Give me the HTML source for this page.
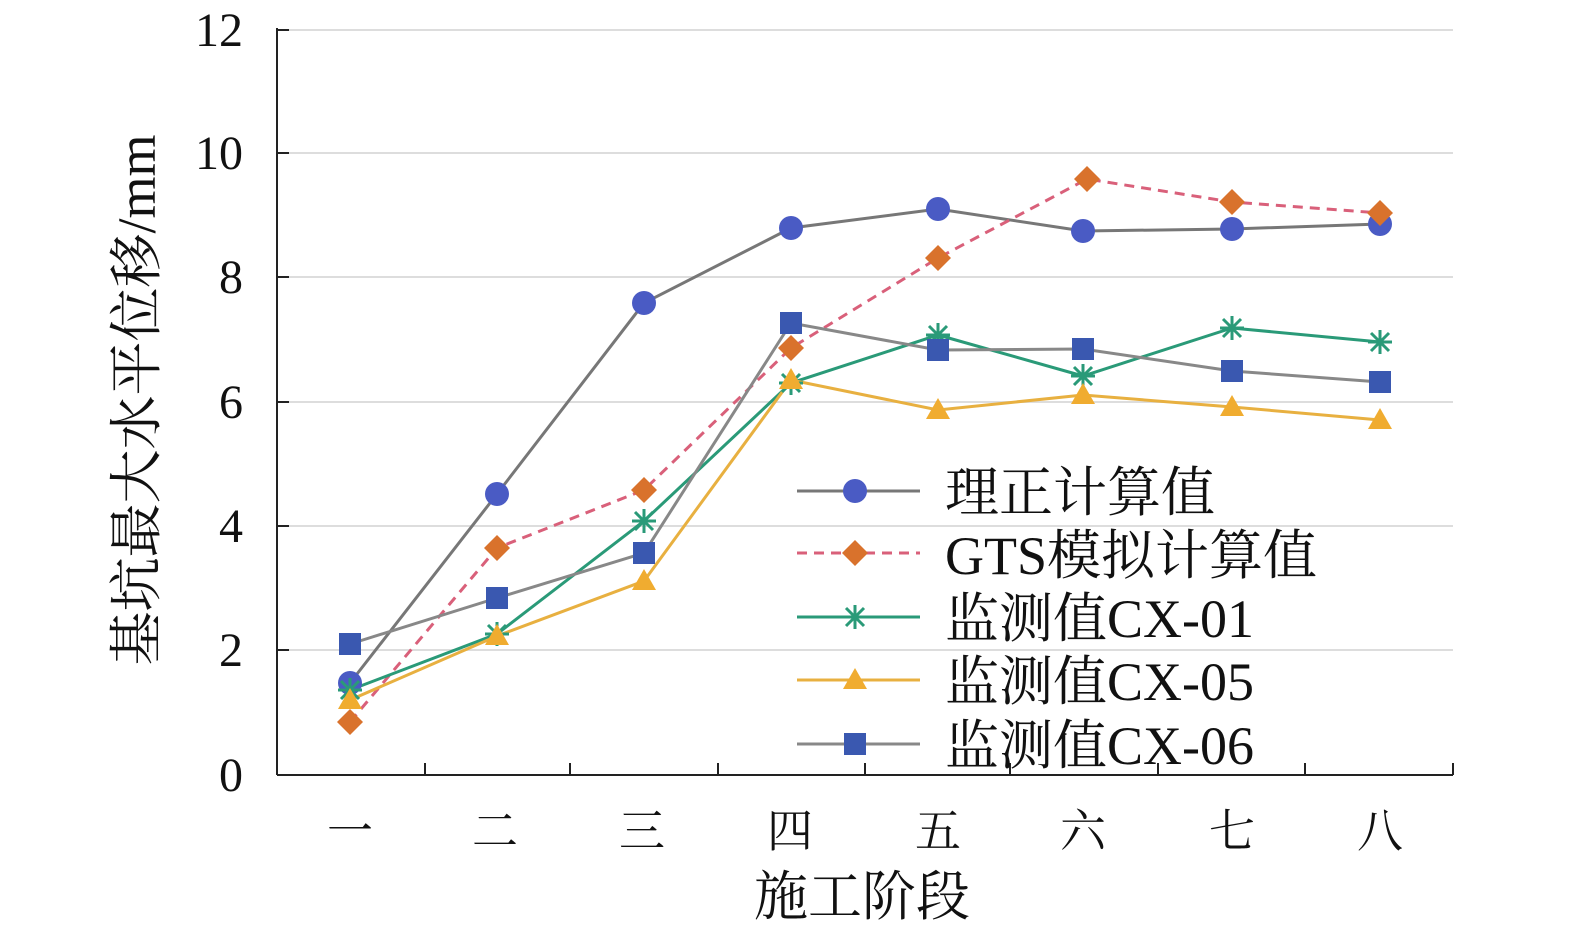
<!DOCTYPE html>
<html><head><meta charset="utf-8"><style>
body{margin:0;background:#fff}
svg text{font-family:"Liberation Serif","Noto Serif CJK SC",serif;fill:#111}
</style></head><body>
<svg width="1575" height="936" viewBox="0 0 1575 936" xmlns="http://www.w3.org/2000/svg">
<rect width="1575" height="936" fill="#fff"/>
<g stroke="#ddd" stroke-width="2">
<line x1="277" y1="30" x2="1453" y2="30"/>
<line x1="277" y1="153" x2="1453" y2="153"/>
<line x1="277" y1="277" x2="1453" y2="277"/>
<line x1="277" y1="402" x2="1453" y2="402"/>
<line x1="277" y1="526" x2="1453" y2="526"/>
<line x1="277" y1="650" x2="1453" y2="650"/>
</g>
<g stroke="#222" stroke-width="2">
<line x1="277" y1="28" x2="277" y2="775"/>
<line x1="277" y1="775" x2="1453" y2="775"/>
<line x1="277" y1="30" x2="289" y2="30"/><line x1="277" y1="153" x2="289" y2="153"/><line x1="277" y1="277" x2="289" y2="277"/><line x1="277" y1="402" x2="289" y2="402"/><line x1="277" y1="526" x2="289" y2="526"/><line x1="277" y1="650" x2="289" y2="650"/>
<line x1="425" y1="763" x2="425" y2="775"/><line x1="570" y1="763" x2="570" y2="775"/><line x1="718" y1="763" x2="718" y2="775"/><line x1="865" y1="763" x2="865" y2="775"/><line x1="1010" y1="763" x2="1010" y2="775"/><line x1="1158" y1="763" x2="1158" y2="775"/><line x1="1305" y1="763" x2="1305" y2="775"/><line x1="1453" y1="763" x2="1453" y2="775"/>
</g>
<g font-size="48" text-anchor="end">
<text x="243" y="46">12</text><text x="243" y="169">10</text><text x="243" y="293">8</text><text x="243" y="418">6</text><text x="243" y="542">4</text><text x="243" y="666">2</text><text x="243" y="791">0</text>
</g>
<g font-size="46" text-anchor="middle">
<text x="350" y="847">一</text><text x="495" y="847">二</text><text x="642" y="847">三</text><text x="790" y="847">四</text><text x="938" y="847">五</text><text x="1083" y="847">六</text><text x="1232" y="847">七</text><text x="1380" y="847">八</text>
<text x="862" y="915" font-size="54">施工阶段</text>
<text transform="translate(155,400) rotate(-90)" font-size="54">基坑最大水平位移/mm</text>
</g>
<polyline fill="none" stroke="#777" stroke-width="3" points="350,683 497,494 644,303 791,228 938,209 1083,231 1232,229 1380,224"/>
<polyline fill="none" stroke="#d9607a" stroke-width="3" stroke-dasharray="10,7" points="350,722 497,548 644,490 791,348 938,258 1087,179 1232,202 1380,213"/>
<polyline fill="none" stroke="#2a9a78" stroke-width="3" points="350,690 497,634 644,521 791,383 938,335 1083,376 1232,328 1380,342"/>
<polyline fill="none" stroke="#e8b040" stroke-width="3" points="350,700 497,636 644,581 791,380 938,410 1083,395 1232,407 1380,420"/>
<polyline fill="none" stroke="#888" stroke-width="3" points="350,644 497,598 644,553 791,323 938,350 1083,349 1232,371 1380,382"/>
<g fill="#4a5bc4">
<circle cx="350" cy="683" r="12"/><circle cx="497" cy="494" r="12"/><circle cx="644" cy="303" r="12"/><circle cx="791" cy="228" r="12"/><circle cx="938" cy="209" r="12"/><circle cx="1083" cy="231" r="12"/><circle cx="1232" cy="229" r="12"/><circle cx="1380" cy="224" r="12"/>
</g>
<g fill="#d9722c">
<path d="M350 709l13 13-13 13-13-13z"/><path d="M497 535l13 13-13 13-13-13z"/><path d="M644 477l13 13-13 13-13-13z"/><path d="M791 335l13 13-13 13-13-13z"/><path d="M938 245l13 13-13 13-13-13z"/><path d="M1087 166l13 13-13 13-13-13z"/><path d="M1232 189l13 13-13 13-13-13z"/><path d="M1380 200l13 13-13 13-13-13z"/>
</g>
<g stroke="#2a9a78" stroke-width="3">
<path d="M338 690h24M350 678v24M341 681l18 18M359 681l-18 18"/>
<path d="M485 634h24M497 622v24M488 625l18 18M506 625l-18 18"/>
<path d="M632 521h24M644 509v24M635 512l18 18M653 512l-18 18"/>
<path d="M779 383h24M791 371v24M782 374l18 18M800 374l-18 18"/>
<path d="M926 335h24M938 323v24M929 326l18 18M947 326l-18 18"/>
<path d="M1071 376h24M1083 364v24M1074 367l18 18M1092 367l-18 18"/>
<path d="M1220 328h24M1232 316v24M1223 319l18 18M1241 319l-18 18"/>
<path d="M1368 342h24M1380 330v24M1371 333l18 18M1389 333l-18 18"/>
</g>
<g fill="#f0ac30">
<path d="M350 688l12 21h-24z"/><path d="M497 624l12 21h-24z"/><path d="M644 569l12 21h-24z"/><path d="M791 368l12 21h-24z"/><path d="M938 398l12 21h-24z"/><path d="M1083 383l12 21h-24z"/><path d="M1232 395l12 21h-24z"/><path d="M1380 408l12 21h-24z"/>
</g>
<g fill="#3a58b0">
<rect x="339" y="633" width="22" height="22"/><rect x="486" y="587" width="22" height="22"/><rect x="633" y="542" width="22" height="22"/><rect x="780" y="312" width="22" height="22"/><rect x="927" y="339" width="22" height="22"/><rect x="1072" y="338" width="22" height="22"/><rect x="1221" y="360" width="22" height="22"/><rect x="1369" y="371" width="22" height="22"/>
</g>
<g stroke-width="3">
<line x1="797" y1="491" x2="920" y2="491" stroke="#777"/>
<line x1="797" y1="553" x2="920" y2="553" stroke="#d9607a" stroke-dasharray="10,7"/>
<line x1="797" y1="617" x2="920" y2="617" stroke="#2a9a78"/>
<line x1="797" y1="680" x2="920" y2="680" stroke="#e8b040"/>
<line x1="797" y1="744" x2="920" y2="744" stroke="#888"/>
</g>
<circle cx="855" cy="491" r="12" fill="#4a5bc4"/>
<path d="M855 540l13 13-13 13-13-13z" fill="#d9722c"/>
<path d="M843 617h24M855 605v24M846 608l18 18M864 608l-18 18" stroke="#2a9a78" stroke-width="3"/>
<path d="M855 668l12 21h-24z" fill="#f0ac30"/>
<rect x="844" y="733" width="22" height="22" fill="#3a58b0"/>
<g font-size="54">
<text x="945" y="511">理正计算值</text>
<text x="945" y="574">GTS模拟计算值</text>
<text x="945" y="637">监测值CX-01</text>
<text x="945" y="700">监测值CX-05</text>
<text x="945" y="764">监测值CX-06</text>
</g>
</svg>
</body></html>
